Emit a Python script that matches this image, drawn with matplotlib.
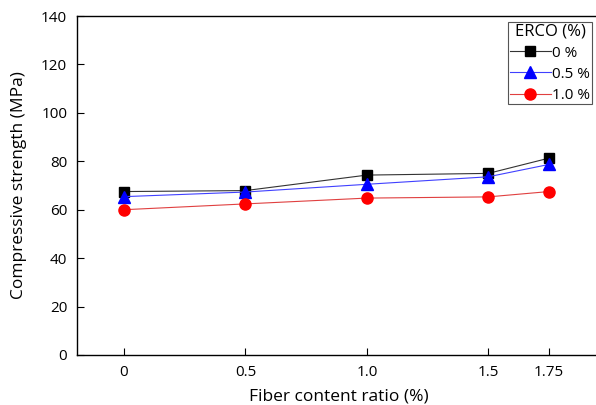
import matplotlib.pyplot as plt

plt.rcParams['font.family'] = ['Open Sans', 'DejaVu Sans']

fiber = [0, 0.5, 1.0, 1.5, 1.75]
erco_0 = [67.5, 67.9, 74.3, 75.0, 81.3]
erco_05 = [65.4, 67.3, 70.5, 73.6, 78.7]
erco_10 = [60.0, 62.4, 64.8, 65.3, 67.5]
xtick_labels = ['0', '0.5', '1.0', '1.5', '1.75']

fig = plt.figure(figsize=(5.96, 4.05), dpi=100)
ax = fig.add_axes([77 / 596, 50 / 405, 523 / 596, 339 / 405])

ax.plot(fiber, erco_0, color='#333333', lw=0.8, marker='s', ms=7,
        mfc='black', mec='black', label='0 %')
ax.plot(fiber, erco_05, color='#4040ff', lw=0.8, marker='^', ms=8,
        mfc='blue', mec='blue', label='0.5 %')
ax.plot(fiber, erco_10, color='#e04040', lw=0.8, marker='o', ms=8,
        mfc='red', mec='red', label='1.0 %')

ax.set_xlim(-0.1935, 1.96)
ax.set_ylim(0, 140)
ax.set_xticks(fiber)
ax.set_xticklabels(xtick_labels)
ax.set_yticks(range(0, 141, 20))
ax.tick_params(direction='in', labelsize=11, length=5, pad=7)
for s in ax.spines.values():
    s.set_linewidth(1.0)

ax.set_xlabel('Fiber content ratio (%)', fontsize=12.5, labelpad=6)
ax.set_ylabel('Compressive strength (MPa)', fontsize=12.5, labelpad=10)

# legend box sits inside the top-right corner
leg = fig.legend(title='ERCO (%)', loc='upper right',
                 bbox_to_anchor=(592 / 596, (405 - 22) / 405),
                 fontsize=11, title_fontsize=12, fancybox=False,
                 edgecolor='#555555', handlelength=2.7, handletextpad=0.1,
                 borderpad=0.1, borderaxespad=0, labelspacing=0.4,
                 framealpha=1)
leg.get_frame().set_linewidth(0.8)

fig.savefig('out.png', dpi=100)
